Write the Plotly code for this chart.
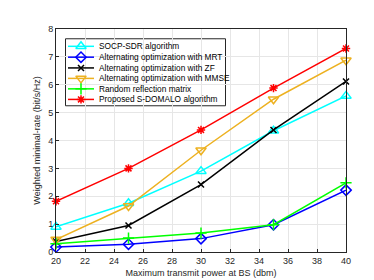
import plotly.graph_objects as go

power = [20, 25, 30, 35, 40]
socp = [0.9, 1.75, 2.9, 4.35, 5.6]
mrt = [0.18, 0.28, 0.48, 0.98, 2.22]
zf = [0.38, 0.95, 2.42, 4.38, 6.12]
mmse = [0.45, 1.65, 3.65, 5.48, 6.88]
rand_ = [0.3, 0.5, 0.68, 0.98, 2.48]
proposed = [1.82, 3.0, 4.38, 5.88, 7.3]

names = ["SOCP-SDR algorithm", "Alternating optimization with MRT",
         "Alternating optimization with ZF", "Alternating optimization with MMSE",
         "Random reflection matrix", "Proposed S-DOMALO algorithm"]
values = [socp, mrt, zf, mmse, rand_, proposed]
colors = ["#00FFFF", "#0000FF", "#000000", "#EDB120", "#00FF00", "#FF0000"]
symbols = ["triangle-up-open", "diamond-open", "x-thin-open",
           "triangle-down-open", "cross-thin-open", "asterisk-open"]
sizes = [9, 8, 6, 9, 8, 7]

FONT = "Liberation Sans, Arial, Helvetica"

fig = go.Figure()
for name, ys, color, sym, sz in zip(names, values, colors, symbols, sizes):
    fig.add_trace(go.Scatter(
        x=power, y=ys, name=name, mode="lines+markers", showlegend=False,
        line=dict(color=color, width=1.5),
        marker=dict(symbol=sym, size=sz, color=color, line=dict(color=color, width=1.5)),
        cliponaxis=False,
    ))

# Custom compact legend (MATLAB style), in plot-area (paper) coordinates
PX0, PW, PY0, PH = 48, 290, 249, 228
def px(X):
    return (X - PX0) / PW
def py(Y):
    return (PY0 - Y) / PH

fig.add_shape(type="rect", xref="paper", yref="paper",
              x0=px(57.5), x1=px(217.5), y0=py(99.5), y1=py(31),
              fillcolor="white", line=dict(color="#262626", width=1), layer="between")

row_y = [38.7, 49.8, 60.8, 71.5, 82.2, 93.0]
for name, color, sym, sz, yy in zip(names, colors, symbols, sizes, row_y):
    fig.add_shape(type="line", xref="paper", yref="paper",
                  x0=px(60), x1=px(86), y0=py(yy), y1=py(yy),
                  line=dict(color=color, width=1.5), layer="above")
    fig.add_trace(go.Scatter(
        x=[px(73)], y=[py(yy)], xaxis="x2", yaxis="y2", mode="markers",
        showlegend=False, hoverinfo="skip", cliponaxis=False,
        marker=dict(symbol=sym, size=sz, color=color, line=dict(color=color, width=1.5)),
    ))
    fig.add_annotation(x=px(88.5), y=py(yy), xref="paper", yref="paper",
                       text=name, showarrow=False, xanchor="left", yanchor="middle",
                       font=dict(family=FONT, size=8.3, color="#000000"))

axis_common = dict(
    showgrid=True, gridcolor="#E6E6E6", gridwidth=1,
    showline=True, linecolor="#262626", linewidth=1, mirror=True,
    ticks="inside", ticklen=3, tickcolor="#262626",
    tickfont=dict(family=FONT, size=9, color="#262626"),
    zeroline=False,
)

fig.update_layout(
    width=374, height=280,
    margin=dict(l=48, r=36, t=21, b=31),
    paper_bgcolor="white", plot_bgcolor="white",
    showlegend=False,
    xaxis=dict(range=[20, 40], dtick=2,
               title=dict(text="Maximum transmit power at BS (dbm)", standoff=4,
                          font=dict(family=FONT, size=9, color="#262626")),
               **axis_common),
    yaxis=dict(range=[0, 8], dtick=1,
               title=dict(text="Weighted minimal-rate (bit/s/Hz)", standoff=6,
                          font=dict(family=FONT, size=9, color="#262626")),
               **axis_common),
    xaxis2=dict(overlaying="x", range=[0, 1], visible=False, fixedrange=True),
    yaxis2=dict(overlaying="y", range=[0, 1], visible=False, fixedrange=True),
)

fig.write_html("out.html")
